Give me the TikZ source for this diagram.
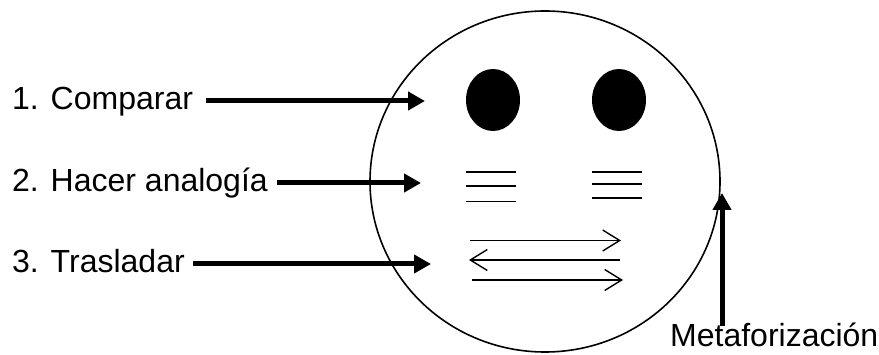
\documentclass[tikz,border=0pt]{standalone}
\usepackage{fontspec}
\setmainfont{Liberation Sans}
\usetikzlibrary{arrows.meta,shapes.geometric}
\begin{document}
\begin{tikzpicture}[x=1pt,y=-1pt,
  lbl/.style={font=\fontsize{32}{38}\selectfont, inner sep=0pt, anchor=base west},
  bigarrow/.style={line width=5pt, -{Triangle[length=17pt,width=18pt]}},
  eqline/.style={line width=1.8pt},
  barb/.style={line width=1.4pt, -{Straight Barb[length=17pt,width=21pt]}},
  eye/.style={ellipse, fill=black, minimum width=54pt, minimum height=62pt, inner sep=0pt},
  facestyle/.style={ellipse, draw, line width=1.6pt, minimum width=350pt, minimum height=341pt, inner sep=0pt}]
\useasboundingbox (0,0) rectangle (879,355);
% face
\node[facestyle] (face) at (545,181.5) {};
\node[eye] (eyeL) at (493,100) {};
\node[eye] (eyeR) at (619,100) {};
% equal signs
\draw[eqline] (466,172) -- (516,172);
\draw[eqline] (466,186) -- (516,186);
\draw[eqline] (466,201.5) -- (516,201.5);
\draw[eqline] (592,172) -- (642,172);
\draw[eqline] (592,184) -- (642,184);
\draw[eqline] (592,198) -- (642,198);
% translation arrows
\coordinate (m1s) at (470,240.5); \coordinate (m1e) at (621,240.5);
\coordinate (m2s) at (620,260);   \coordinate (m2e) at (469,260);
\coordinate (m3s) at (472,280);   \coordinate (m3e) at (623,280);
\draw[barb] (m1s) -- (m1e);
\draw[barb] (m2s) -- (m2e);
\draw[barb] (m3s) -- (m3e);
% labels
\node[lbl] (t1) at (12,110) {1. Comparar};
\node[lbl] (t2) at (12,192) {2. Hacer analogía};
\node[lbl] (t3) at (12,273) {3. Trasladar};
\node[lbl] (t4) at (670,347) {Metaforización};
% label arrows
\coordinate (a1s) at (206,101); \coordinate (a1e) at (425,101);
\coordinate (a2s) at (277,183); \coordinate (a2e) at (421,183);
\coordinate (a3s) at (193,264); \coordinate (a3e) at (431,264);
\coordinate (a4s) at (722,326); \coordinate (a4e) at (722,193);
\draw[bigarrow] (a1s) -- (a1e);
\draw[bigarrow] (a2s) -- (a2e);
\draw[bigarrow] (a3s) -- (a3e);
\draw[bigarrow] (a4s) -- (a4e);
\end{tikzpicture}
\end{document}
